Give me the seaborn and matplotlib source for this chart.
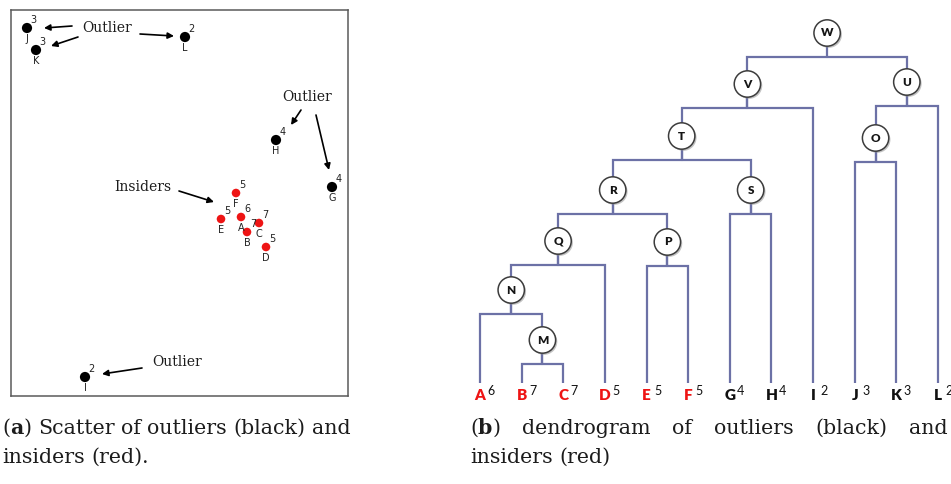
import numpy as np
import pandas as pd
import matplotlib
matplotlib.use("Agg")
import matplotlib.pyplot as plt
import seaborn as sns
from matplotlib import patheffects as pe

sns.set_theme(style="white")
plt.rcParams['font.family'] = ['DejaVu Sans']

# ---- points of the scatter panel ----
point_names = list("ABCDEFGHIJKL")
point_x = [230, 236, 248, 255, 210, 225, 321, 265, 74, 16, 25, 174]
point_y = [179, 164, 173, 149, 177, 203, 209, 256, 19, 368, 346, 359]
point_counts = [6, 7, 7, 5, 5, 5, 4, 4, 2, 3, 3, 2]
point_group = ["insider"] * 6 + ["outlier"] * 6

# ---- hierarchical merges: (node, left child, right child, merge height) ----
merge_nodes = ["M", "N", "Q", "P", "R", "S", "T", "V", "O", "U", "W"]
merge_left = ["B", "A", "N", "E", "Q", "G", "R", "T", "J", "O", "V"]
merge_right = ["C", "M", "D", "F", "P", "H", "S", "I", "K", "L", "U"]
merge_height = [19, 69, 118, 117, 169, 169, 223, 275, 221, 277, 326]

W, H = 951, 484
fig = plt.figure(figsize=(W / 100, H / 100), dpi=100)
fig.patch.set_facecolor("white")

RED = "#ee1414"
TXT = "#1c1c1c"

# ================= scatter panel =================
ax = fig.add_axes([11 / W, 1 - 396 / H, 337 / W, 386 / H])
df = pd.DataFrame({"name": point_names, "x": point_x, "y": point_y,
                   "count": point_counts, "group": point_group})
sns.scatterplot(data=df, x="x", y="y", hue="group", size="group",
                palette={"insider": RED, "outlier": "black"},
                sizes={"insider": 38, "outlier": 54},
                linewidth=0, legend=False, ax=ax, zorder=3)
ax.set_xlim(0, 337)
ax.set_ylim(0, 386)
ax.set_xticks([])
ax.set_yticks([])
ax.set_xlabel("")
ax.set_ylabel("")
for s in ax.spines.values():
    s.set_color("#5a5a5a")
    s.set_linewidth(1.1)

for _, r in df.iterrows():
    ax.annotate(r["name"], (r["x"], r["y"]), xytext=(0, -8), textcoords="offset points",
                ha="center", va="center", fontsize=7, color="#222222")
    ax.annotate(str(r["count"]), (r["x"], r["y"]), xytext=(4.5, 5.8), textcoords="offset points",
                ha="center", va="center", fontsize=7, color="#222222")

serif = "DejaVu Serif"
notes = [("Outlier", 96, 368), ("Outlier", 296, 299), ("Insiders", 132, 209), ("Outlier", 166, 34)]
for txt, nx, ny in notes:
    ax.text(nx, ny, txt, ha="center", va="center", fontsize=10, family=serif, color=TXT)

arrows = [((61, 370), (33, 368)), ((67, 359), (40, 350)), ((129, 362), (163, 360)),
          ((290, 286), (280, 271)), ((305, 281), (318, 226)),
          ((168, 205), (203, 194)), ((131, 28), (91, 22))]
for (x0, y0), (x1, y1) in arrows:
    ax.annotate("", xy=(x1, y1), xytext=(x0, y0),
                arrowprops=dict(arrowstyle="-|>", color="black", lw=1.2,
                                mutation_scale=9, shrinkA=0, shrinkB=0))

# ================= dendrogram panel =================
axd = fig.add_axes([460 / W, 1 - 410 / H, 491 / W, 410 / H])
step = 41.64
axd.set_xlim((460 - 480) / step, (951 - 480) / step)
axd.set_ylim(383 - 410, 383)
axd.axis("off")

LINE = "#6c71a6"
xpos = {n: i for i, n in enumerate(point_names)}
ypos = {n: 0 for n in point_names}
for n, l, r, h in zip(merge_nodes, merge_left, merge_right, merge_height):
    xl, xr = xpos[l], xpos[r]
    axd.plot([xl, xl, xr, xr], [ypos[l], h, h, ypos[r]], color=LINE, lw=1.6,
             solid_capstyle="butt", solid_joinstyle="miter", zorder=1)
    xpos[n] = (xl + xr) / 2
    ypos[n] = h
    axd.plot([xpos[n], xpos[n]], [h, h + 24], color=LINE, lw=1.6, zorder=1)

nodes = pd.DataFrame({"node": merge_nodes,
                      "x": [xpos[n] for n in merge_nodes],
                      "y": [ypos[n] + 24 for n in merge_nodes]})
sns.scatterplot(data=nodes, x="x", y="y", s=360, color="white", edgecolor="#3c3c3c",
                linewidth=1.1, legend=False, ax=axd, zorder=3,
                path_effects=[pe.SimplePatchShadow(offset=(1.2, -1.2), shadow_rgbFace="#888888", alpha=0.5),
                              pe.Normal()])
axd.set_xlabel("")
axd.set_ylabel("")
for _, r in nodes.iterrows():
    axd.text(r["x"], r["y"], r["node"], ha="center", va="center", fontsize=8.5,
             family="Lato", weight="heavy", color="#151515", zorder=4)

for name, cnt, grp in zip(point_names, point_counts, point_group):
    col = RED if grp == "insider" else "#111111"
    axd.annotate(name, (xpos[name], 0), xytext=(0, -8.8), textcoords="offset points",
                 ha="center", va="center", fontsize=11, family="Lato", weight="heavy", color=col)
    axd.annotate(str(cnt), (xpos[name], 0), xytext=(8, -5.5), textcoords="offset points",
                 ha="center", va="center", fontsize=9, family="Lato", color="#111111")

# ================= captions =================
renderer = fig.canvas.get_renderer()


def measure(txt, size, family, weight="normal"):
    t = fig.text(0, 0, txt, fontsize=size, family=family, weight=weight)
    w = t.get_window_extent(renderer).width
    t.remove()
    return w


def natural_width(words, size, family):
    total = sum(measure(txt, size, family, wt) for word in words for txt, wt in word)
    space = measure("n n", size, family) - measure("nn", size, family)
    return total + space * (len(words) - 1)


def place_words(words, x_px, y_px, size, family, target_width=None):
    placed = []
    widths = []
    for word in words:
        runs = []
        total = 0
        for txt, weight in word:
            t = fig.text(0, 0, txt, fontsize=size, family=family, weight=weight,
                         ha="left", va="baseline", color=TXT)
            w = t.get_window_extent(renderer).width
            runs.append((t, w))
            total += w
        placed.append(runs)
        widths.append(total)
    space = measure("n n", size, family) - measure("nn", size, family)
    if target_width is not None and len(words) > 1:
        gap = (target_width - sum(widths)) / (len(words) - 1)
    else:
        gap = space
    x = x_px
    for runs, wsum in zip(placed, widths):
        xx = x
        for t, w in runs:
            t.set_position((xx / W, 1 - y_px / H))
            xx += w
        x += wsum + gap


n = "normal"
b = "bold"
cap_a1 = [[("(", n), ("a", b), (")", n)], [("Scatter", n)], [("of", n)], [("outliers", n)],
          [("(black)", n)], [("and", n)]]
cap_a2 = [[("insiders", n)], [("(red).", n)]]
cap_b1 = [[("(", n), ("b", b), (")", n)], [("dendrogram", n)], [("of", n)], [("outliers", n)],
          [("(black)", n)], [("and", n)]]
cap_b2 = [[("insiders", n)], [("(red)", n)]]

# font size chosen so the first caption line fills the panel width
cap_size = 12 * 346 / natural_width(cap_a1, 12, serif)
place_words(cap_a1, 2, 434, cap_size, serif)
place_words(cap_a2, 2, 463, cap_size, serif)
place_words(cap_b1, 470, 434, cap_size, serif, target_width=478)
place_words(cap_b2, 470, 463, cap_size, serif)

fig.savefig("out.png", dpi=100, facecolor="white")
